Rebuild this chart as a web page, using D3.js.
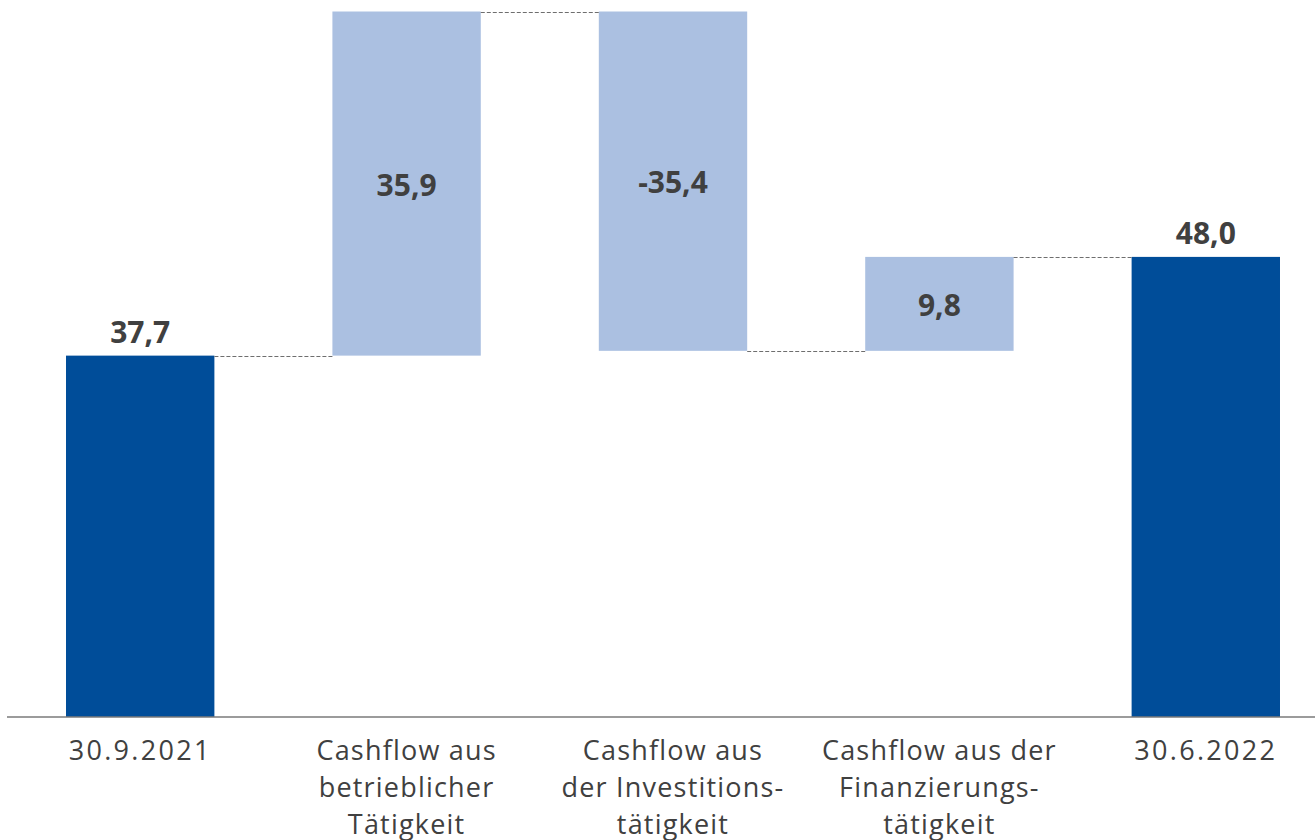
<!DOCTYPE html>
<html>
<head>
<meta charset="utf-8">
<script src="https://cdn.jsdelivr.net/npm/d3@7"></script>
<style>
  html, body { margin: 0; padding: 0; background: #fff; }
  svg { display: block; }
</style>
</head>
<body>
<svg id="chart" width="1315" height="840"></svg>
<script>
// Cash flow bridge (Mio. EUR)
const categories = [
  ["30.9.2021"],
  ["Cashflow aus", "betrieblicher", "Tätigkeit"],
  ["Cashflow aus", "der Investitions-", "tätigkeit"],
  ["Cashflow aus der", "Finanzierungs-", "tätigkeit"],
  ["30.6.2022"]
];
const values = [37.7, 35.9, -35.4, 9.8, 48.0];
const kinds = ["total", "delta", "delta", "delta", "total"];
const valueLabels = ["37,7", "35,9", "-35,4", "9,8", "48,0"];

const svg = d3.select("#chart");
const W = 1315, H = 840;
const baseY = 717;

// running start/end per bar
let run = 0;
const bars = values.map((v, i) => {
  let y0, y1;
  if (kinds[i] === "total") { y0 = 0; y1 = v; run = v; }
  else { y0 = run; y1 = run + v; run = y1; }
  return { i, v, y0, y1, label: valueLabels[i], kind: kinds[i], cat: categories[i] };
});

const x = d3.scaleBand()
  .domain(d3.range(categories.length))
  .range([7, 1339])
  .paddingInner(0.443)
  .paddingOuter(0.2215);

const y = d3.scaleLinear().domain([0, 74.8]).range([baseY, 0]);

const colTotal = "#004d99";
const colDelta = "#abc0e1";
const textCol = "#404040";

// bars
svg.append("g").selectAll("rect").data(bars).join("rect")
  .attr("x", d => x(d.i))
  .attr("width", x.bandwidth())
  .attr("y", d => y(Math.max(d.y0, d.y1)))
  .attr("height", d => Math.abs(y(d.y0) - y(d.y1)))
  .attr("fill", d => d.kind === "total" ? colTotal : colDelta);

// dashed connectors between consecutive bars
svg.append("g").selectAll("line").data(bars.slice(0, -1)).join("line")
  .attr("x1", d => x(d.i) + x.bandwidth())
  .attr("x2", d => x(d.i + 1))
  .attr("y1", d => Math.round(y(d.y1)) + 0.5)
  .attr("y2", d => Math.round(y(d.y1)) + 0.5)
  .attr("stroke", "#6e6e6e")
  .attr("stroke-width", 1)
  .attr("stroke-dasharray", "4,2");

// baseline
svg.append("line")
  .attr("x1", 7).attr("x2", W)
  .attr("y1", baseY).attr("y2", baseY)
  .attr("stroke", "#7a7a7a")
  .attr("stroke-width", 1.6);

// value labels: above totals, centred inside deltas
svg.append("g").selectAll("text").data(bars).join("text")
  .attr("x", d => x(d.i) + x.bandwidth() / 2)
  .attr("y", d => d.kind === "total"
      ? y(d.y1) - 13
      : (y(d.y0) + y(d.y1)) / 2 + 12)
  .attr("text-anchor", "middle")
  .attr("font-family", "'Open Sans', sans-serif")
  .attr("font-weight", 700)
  .attr("font-size", 30)
  .attr("fill", textCol)
  .text(d => d.label);

// category labels (date labels get wider tracking)
const isDate = s => /^[\d.]+$/.test(s);
const cat = svg.append("g").selectAll("text").data(bars).join("text")
  .attr("x", d => x(d.i) + x.bandwidth() / 2)
  .attr("y", 760)
  .attr("text-anchor", "middle")
  .attr("font-family", "'Open Sans', sans-serif")
  .attr("font-size", 27)
  .attr("fill", textCol);
cat.selectAll("tspan").data(d => d.cat).join("tspan")
  .attr("x", function() { return d3.select(this.parentNode).attr("x"); })
  .attr("dy", (d, k) => k === 0 ? 0 : 37)
  .attr("letter-spacing", d => isDate(d) ? 2.3 : 1.2)
  .text(d => d);
</script>
</body>
</html>
